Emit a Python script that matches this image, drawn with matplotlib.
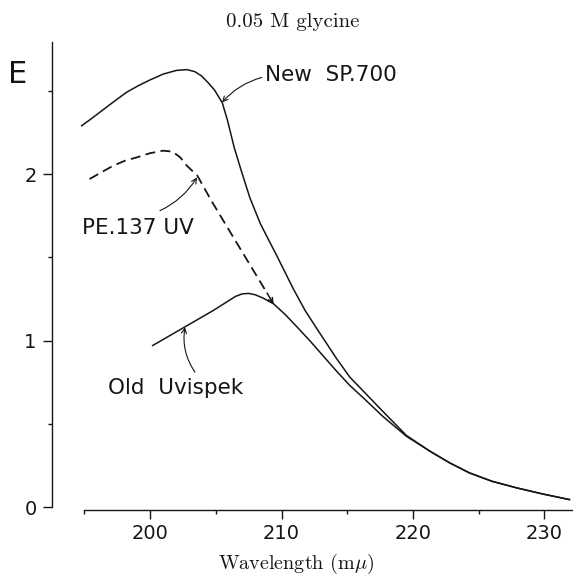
import matplotlib
matplotlib.use("Agg")
import matplotlib.pyplot as plt
from matplotlib.ticker import FixedLocator, NullFormatter

plt.rcParams["mathtext.fontset"] = "cm"
plt.rcParams["font.family"] = ["DejaVu Sans"]

INK = "#161616"

# wavelength (m mu) vs extinction E
new_x = [194.8, 195.5, 197.0, 198.2, 199.1, 200.0, 201.0, 202.0, 202.8, 203.4,
         203.9, 204.4, 204.9, 205.5, 205.9, 206.4, 206.9, 207.6, 208.4, 209.7,
         210.9, 211.8, 212.7, 214.2, 215.2, 216.3, 217.7, 219.5, 221.3, 222.8,
         224.3, 226.0, 227.9, 229.9, 231.9]
new_e = [2.29, 2.33, 2.42, 2.49, 2.53, 2.565, 2.60, 2.622, 2.627, 2.615,
         2.59, 2.55, 2.505, 2.427, 2.32, 2.16, 2.03, 1.856, 1.70, 1.50,
         1.31, 1.18, 1.07, 0.89, 0.78, 0.69, 0.575, 0.43, 0.335, 0.265,
         0.205, 0.155, 0.115, 0.078, 0.045]

old_x = [200.2, 202.5, 204.8, 205.9, 206.5, 207.0, 207.5, 208.0, 208.6, 209.4,
         210.3, 211.2, 212.2, 213.2, 214.2, 215.2, 216.3, 217.7, 219.5,
         221.3, 222.8, 224.3, 226.0, 227.9, 229.9, 231.9]
old_e = [0.97, 1.075, 1.18, 1.235, 1.265, 1.28, 1.283, 1.275, 1.255, 1.22,
         1.155, 1.08, 0.995, 0.905, 0.815, 0.73, 0.65, 0.545, 0.425,
         0.335, 0.265, 0.205, 0.155, 0.115, 0.078, 0.045]

pe_x = [195.4, 196.3, 197.2, 198.1, 199.0, 200.0, 201.0, 201.7, 202.3, 202.8,
        203.6, 204.7, 206.3, 207.6, 208.9, 209.4]
pe_e = [1.97, 2.01, 2.05, 2.08, 2.10, 2.125, 2.14, 2.135, 2.10, 2.05,
        1.99, 1.835, 1.625, 1.455, 1.285, 1.22]

x_major = [200, 210, 220, 230]
x_minor = [195, 205, 215, 225]
y_major = [0, 1, 2]
y_minor = [0.5, 1.5, 2.5]

fig = plt.figure(figsize=(5.73, 5.81), dpi=100, facecolor="white")
ax = fig.add_axes([0, 0, 1, 1])
ax.set_facecolor("white")
ax.set_xlim(188.59, 232.17)
ax.set_ylim(-0.444, 3.045)

ax.plot(new_x, new_e, color=INK, lw=1.1, solid_joinstyle="round")
ax.plot(old_x, old_e, color=INK, lw=1.1, solid_joinstyle="round")
ax.plot(pe_x[:-1], pe_e[:-1], color=INK, lw=1.3, linestyle=(0, (5.5, 3)))
ax.annotate("", xy=(pe_x[-1], pe_e[-1]), xytext=(pe_x[-2], pe_e[-2]),
            arrowprops=dict(arrowstyle="->", color=INK, lw=1.1,
                            shrinkA=0, shrinkB=0, mutation_scale=8))

# curve labels
lab = dict(fontsize=15.5, color=INK, va="center", ha="left")
ax.text(208.75, 2.595, "New  SP.700", **lab)
ax.text(194.83, 1.676, "PE.137 UV", **lab)
ax.text(196.8, 0.715, "Old  Uvispek", **lab)
arr = dict(arrowstyle="->", color=INK, lw=0.8, shrinkA=0, shrinkB=0, mutation_scale=9)
ax.annotate("", xy=(205.48, 2.43), xytext=(208.5, 2.58),
            arrowprops=dict(connectionstyle="arc3,rad=0.15", **arr))
ax.annotate("", xy=(203.57, 1.98), xytext=(200.76, 1.78),
            arrowprops=dict(connectionstyle="arc3,rad=0.15", **arr))
ax.annotate("", xy=(202.66, 1.08), xytext=(203.42, 0.81),
            arrowprops=dict(connectionstyle="arc3,rad=-0.2", **arr))

# detached axes
for s in ("top", "right"):
    ax.spines[s].set_visible(False)
ax.spines["left"].set_position(("data", 192.55))
ax.spines["bottom"].set_position(("data", -0.018))
ax.spines["left"].set_bounds(0, 2.79)
ax.spines["bottom"].set_bounds(195, 232.17)
for s in ("left", "bottom"):
    ax.spines[s].set_linewidth(1.0)
    ax.spines[s].set_color(INK)

ax.xaxis.set_major_locator(FixedLocator(x_major))
ax.xaxis.set_minor_locator(FixedLocator(x_minor))
ax.yaxis.set_major_locator(FixedLocator(y_major))
ax.yaxis.set_minor_locator(FixedLocator(y_minor))
ax.xaxis.set_minor_formatter(NullFormatter())
ax.yaxis.set_minor_formatter(NullFormatter())
ax.set_xticklabels([str(v) for v in x_major])
ax.set_yticklabels([str(v) for v in y_major])
ax.tick_params(which="major", direction="out", length=6.2, width=1.0, color=INK,
               labelsize=14, labelcolor=INK)
ax.tick_params(which="minor", direction="out", length=3, width=1.0, color=INK)
ax.tick_params(axis="x", which="major", pad=3.5)
ax.tick_params(axis="y", which="major", pad=5)

ax.text(189.96, 2.595, "E", fontsize=22, color=INK, ha="center", va="center")

fig.text(293 / 573, 1 - 22 / 581, "0.05 M glycine", family="cmr10",
         fontsize=15, ha="center", va="center", color=INK)
fig.text(296 / 573, 1 - 564 / 581, r"Wavelength (m$\mu$)", family="cmr10",
         fontsize=14.5, ha="center", va="center", color=INK)

fig.savefig("out.png", dpi=100, facecolor="white")
